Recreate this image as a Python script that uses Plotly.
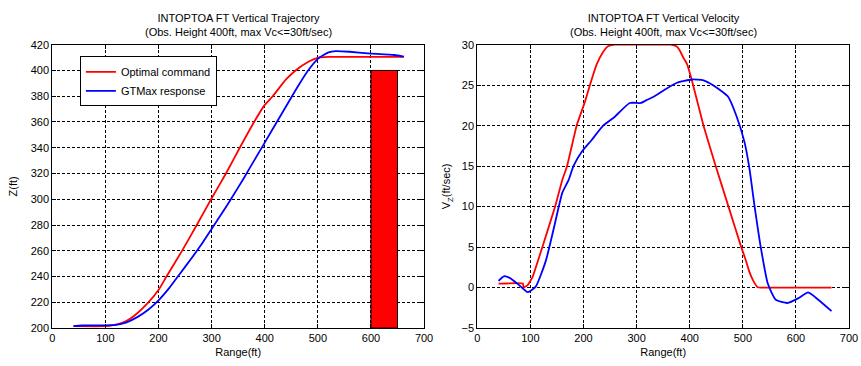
import plotly.graph_objects as go

# ---------------- data ----------------
# Left: vertical trajectory
opt_range = [40, 100, 115, 130, 145, 160, 180, 200, 215, 245, 272, 299, 327, 353, 380, 399, 415, 440,
             458, 483, 501, 520, 662]
opt_z = [201.5, 201.5, 202.3, 203.8, 206.8, 211.5, 219.5, 229.5, 240, 260.5, 280, 300, 320, 340, 360, 372.7, 380, 393,
         400, 407, 410, 410.5, 410.5]

gt_range = [40, 55, 120, 140, 160, 180, 200, 220, 240, 260, 280, 300, 320, 340, 360, 380, 400, 420,
            440, 460, 480, 500, 520, 534, 560, 594, 644, 662]
gt_z = [201.5, 202, 202.5, 204.5, 208.5, 214, 221.5, 231, 242, 253, 264.5, 277, 289.5, 302.5, 316, 330, 344, 358,
        372, 386, 399, 409, 414, 415, 414.5, 413.3, 412, 410.7]

obs_range = [600, 650]
obs_height = 400

# Right: vertical velocity
opt_v_range = [40, 86, 87, 95, 104, 122, 147, 160, 169, 187, 203, 212, 225, 236, 246, 258, 300, 364,
               375, 382, 388, 395, 404, 426, 449, 473, 497, 505, 512, 520, 528, 535, 667]
opt_v = [0.5, 0.5, 0, 0.3, 1.3, 4.9, 10.1, 13.3, 15, 20, 23, 25, 27.6, 29, 29.8, 30, 30, 30,
         29.8, 29.2, 28.4, 27.6, 25.6, 20, 15, 10, 5, 3.5, 2, 0.8, 0.05, 0, 0]

gt_v_range = [40, 50, 61, 79, 95, 110, 129, 144, 160, 172, 181, 197, 215, 237, 259, 287, 308, 320, 333,
              352, 376, 404, 426, 444, 472, 488, 503, 512, 522, 534, 547, 562, 584, 605, 623, 642, 667]
gt_v = [0.84, 1.4, 1.2, 0.3, -0.55, 0.12, 3.3, 7.3, 11.7, 13.3, 15, 16.8, 18.2, 20, 21.1, 22.8, 22.8, 23.2, 23.6,
        24.4, 25.3, 25.7, 25.6, 25, 23.6, 21.2, 18, 14.9, 10.1, 4.9, 0.5, -1.5, -1.9, -1.3, -0.6, -1.5, -2.9]

x_ticks = [0, 100, 200, 300, 400, 500, 600, 700]
z_ticks = list(range(200, 421, 20))
v_ticks = list(range(-5, 31, 5))

RED = "#ff0000"
BLUE = "#0000ff"
FONT = "Liberation Sans, Arial, sans-serif"
SM = 0.5

fig = go.Figure()

fig.add_trace(go.Bar(x=[(obs_range[0] + obs_range[1]) / 2], y=[obs_height - z_ticks[0]],
                     base=[z_ticks[0]], width=[obs_range[1] - obs_range[0]],
                     marker=dict(color=RED, line=dict(color="black", width=1)),
                     showlegend=False, xaxis="x", yaxis="y"))
fig.add_trace(go.Scatter(x=opt_range, y=opt_z, mode="lines", name="Optimal command",
                         line=dict(color=RED, width=1.8, shape="spline", smoothing=SM), xaxis="x", yaxis="y"))
fig.add_trace(go.Scatter(x=gt_range, y=gt_z, mode="lines", name="GTMax response",
                         line=dict(color=BLUE, width=1.8, shape="spline", smoothing=SM), xaxis="x", yaxis="y"))
fig.add_trace(go.Scatter(x=opt_v_range, y=opt_v, mode="lines", showlegend=False,
                         line=dict(color=RED, width=1.8, shape="spline", smoothing=0.3), xaxis="x2", yaxis="y2"))
fig.add_trace(go.Scatter(x=gt_v_range, y=gt_v, mode="lines", showlegend=False,
                         line=dict(color=BLUE, width=1.8, shape="spline", smoothing=SM), xaxis="x2", yaxis="y2"))

W, H = 861, 366
def px_x(p): return p / W
def px_y(p): return 1 - p / H

common_axis = dict(showline=True, linecolor="black", linewidth=1, mirror="ticks",
                   ticks="inside", ticklen=4, tickcolor="black",
                   showgrid=True, gridcolor="black", gridwidth=1, griddash="3px,2px",
                   zeroline=False, tickfont=dict(size=11, color="black", family=FONT))

ydom = [px_y(333), px_y(40)]
fig.update_layout(
    width=W, height=H, margin=dict(l=0, r=0, t=0, b=0),
    paper_bgcolor="white", plot_bgcolor="white",
    font=dict(family=FONT, size=11, color="black"),
    barmode="overlay",
    xaxis=dict(domain=[px_x(50), px_x(427)], range=[0, 700], tickvals=x_ticks, anchor="y",
               title=dict(text="Range(ft)", standoff=5, font=dict(size=11)), **common_axis),
    yaxis=dict(domain=ydom, range=[200, 420], tickvals=z_ticks, anchor="x",
               title=dict(text="Z(ft)", standoff=10, font=dict(size=11)), **common_axis),
    xaxis2=dict(domain=[px_x(481), px_x(858)], range=[0, 700], tickvals=x_ticks, anchor="y2",
                title=dict(text="Range(ft)", standoff=5, font=dict(size=11)), **common_axis),
    yaxis2=dict(domain=ydom, range=[-5, 30], tickvals=v_ticks, anchor="x2",
                title=dict(text="V<sub>Z</sub>(ft/sec)", standoff=8, font=dict(size=11)), **common_axis),
    legend=dict(x=px_x(78), y=px_y(52), xanchor="left", yanchor="top",
                bgcolor="white", bordercolor="black", borderwidth=1,
                font=dict(size=11, family=FONT), itemwidth=30, tracegroupgap=0),
    showlegend=True,
)

titles = [("INTOPTOA FT Vertical Trajectory<br>(Obs. Height 400ft, max Vc<=30ft/sec)", (50 + 427) / 2),
          ("INTOPTOA FT Vertical Velocity<br>(Obs. Height 400ft, max Vc<=30ft/sec)", (481 + 858) / 2)]
for txt, cx in titles:
    fig.add_annotation(text=txt, x=px_x(cx), y=px_y(4), xref="paper", yref="paper",
                       xanchor="center", yanchor="top", showarrow=False,
                       font=dict(size=11, family=FONT, color="black"))

fig.write_html("out.html")
